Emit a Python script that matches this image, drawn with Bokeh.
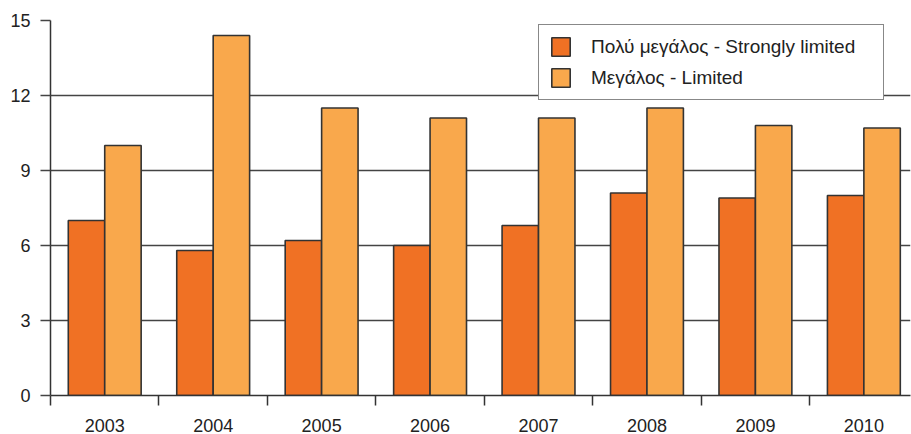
import numpy as np
from bokeh.plotting import figure
from bokeh.models import Range1d, FixedTicker, ColumnDataSource, Legend, LegendItem
from bokeh.embed import file_html
from bokeh.resources import INLINE

years = ["2003", "2004", "2005", "2006", "2007", "2008", "2009", "2010"]
strongly_limited = [7.0, 5.8, 6.2, 6.0, 6.8, 8.1, 7.9, 8.0]
limited = [10.0, 14.4, 11.5, 11.1, 11.1, 11.5, 10.8, 10.7]
y_ticks = [0, 3, 6, 9, 12, 15]
series_names = ["Πολύ μεγάλος - Strongly limited", "Μεγάλος - Limited"]

FONT = "Liberation Sans"
c1 = "#F07124"
c2 = "#F9A84C"
edge = "#333333"
grid = "#444444"

idx = np.arange(len(years))
centers = idx + 0.5
src = ColumnDataSource(dict(x1=centers - 0.168, x2=centers + 0.168,
                            s=strongly_limited, l=limited))

# the last category is partly cut off at the right edge, as in the original
p = figure(width=911, height=434, x_range=Range1d(0, 7.93), y_range=Range1d(0, 15),
           output_backend="svg", toolbar_location=None,
           min_border_left=50, min_border_right=1, min_border_top=20, min_border_bottom=35)
p.outline_line_color = None
p.background_fill_color = "white"

r1 = p.vbar(x="x1", top="s", width=0.336, source=src, fill_color=c1, line_color=edge, line_width=1.6)
r2 = p.vbar(x="x2", top="l", width=0.336, source=src, fill_color=c2, line_color=edge, line_width=1.6)

# y axis
p.yaxis.ticker = FixedTicker(ticks=y_ticks)
p.yaxis.major_tick_out = 10
p.yaxis.major_tick_in = 0
p.yaxis.minor_tick_out = 0
p.yaxis.minor_tick_in = 0
p.yaxis.axis_line_color = edge
p.yaxis.axis_line_width = 1.5
p.yaxis.major_tick_line_color = grid
p.yaxis.major_tick_line_width = 1.3
p.yaxis.major_label_text_font = FONT
p.yaxis.major_label_text_font_size = "18px"
p.yaxis.major_label_text_color = "#222222"
p.yaxis.major_label_standoff = 10

# x axis: labels at centers, ticks at category boundaries
p.xaxis.ticker = FixedTicker(ticks=list(centers), minor_ticks=list(np.arange(len(years) + 1)))
p.xaxis.major_label_overrides = {float(c): y for c, y in zip(centers, years)}
p.xaxis.major_tick_out = 0
p.xaxis.major_tick_in = 0
p.xaxis.minor_tick_out = 10
p.xaxis.minor_tick_in = 0
p.xaxis.minor_tick_line_color = edge
p.xaxis.minor_tick_line_width = 1.5
p.xaxis.axis_line_color = edge
p.xaxis.axis_line_width = 1.5
p.xaxis.major_label_text_font = FONT
p.xaxis.major_label_text_font_size = "18px"
p.xaxis.major_label_text_color = "#222222"
p.xaxis.major_label_standoff = 13

p.xgrid.grid_line_color = None
p.ygrid.ticker = FixedTicker(ticks=y_ticks)
p.ygrid.grid_line_color = grid
p.ygrid.grid_line_width = 1.3

legend = Legend(items=[LegendItem(label=series_names[0], renderers=[r1]),
                       LegendItem(label=series_names[1], renderers=[r2])],
                location=(488, 295))
legend.border_line_color = "#111111"
legend.border_line_width = 1.5
legend.background_fill_color = "white"
legend.background_fill_alpha = 1.0
legend.glyph_width = 23
legend.glyph_height = 23
legend.label_standoff = 19
legend.label_width = 282
legend.padding = 10
legend.margin = 0
legend.spacing = 8
legend.label_text_font = FONT
legend.label_text_font_size = "19px"
legend.label_text_color = "#222222"
legend.label_height = 23
p.add_layout(legend, "center")

open("out.html", "w").write(file_html(p, INLINE))
